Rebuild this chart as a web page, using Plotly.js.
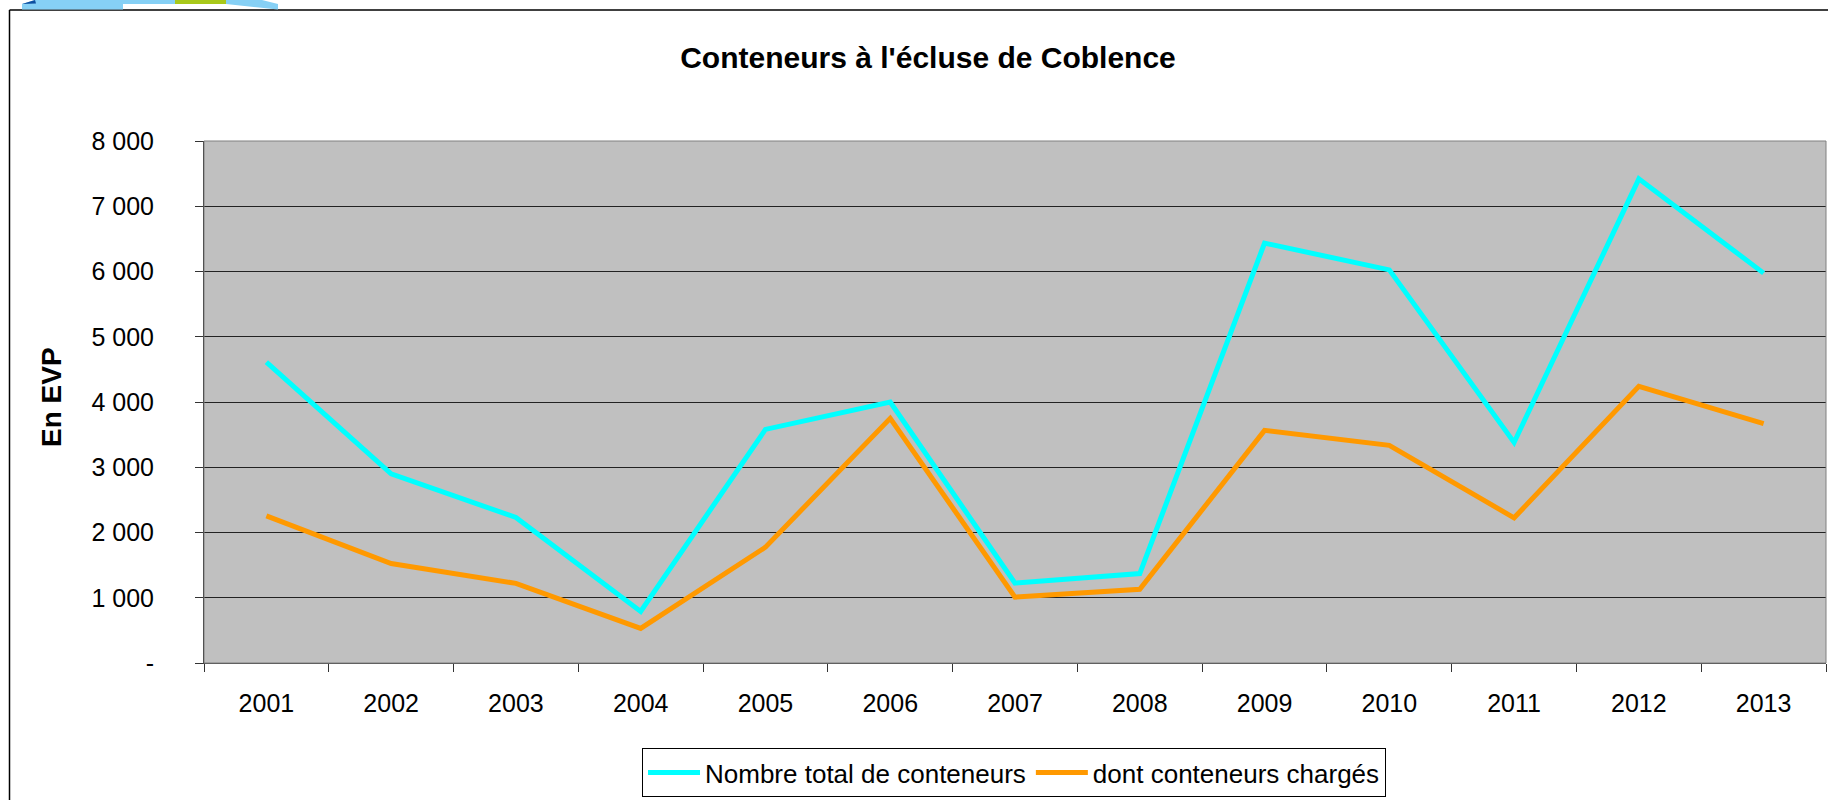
<!DOCTYPE html>
<html>
<head>
<meta charset="utf-8">
<script src="https://cdn.plot.ly/plotly-3.0.1.min.js"></script>
<style>
  html, body { margin: 0; padding: 0; background: #ffffff; }
  #chart { width: 1828px; height: 800px; }
</style>
</head>
<body>
<div id="chart"></div>
<script>
// ---- data ----
const years = ['2001', '2002', '2003', '2004', '2005', '2006', '2007', '2008', '2009', '2010', '2011', '2012', '2013'];
const totalContainers = [4610, 2900, 2230, 790, 3580, 4000, 1225, 1370, 6435, 6025, 3380, 7420, 5975];
const loadedContainers = [2255, 1525, 1220, 530, 1775, 3750, 1010, 1130, 3565, 3335, 2225, 4240, 3670];
const yTickValues = [0, 1000, 2000, 3000, 4000, 5000, 6000, 7000, 8000];
const yTickLabels = ['-', '1 000', '2 000', '3 000', '4 000', '5 000', '6 000', '7 000', '8 000'];
const seriesNames = ['Nombre total de conteneurs', 'dont conteneurs chargés'];
const chartTitle = "Conteneurs à l'écluse de Coblence";
const yTitle = 'En EVP';

// ---- geometry helpers (pixel -> paper) ----
const W = 1828, H = 800;
const M = { l: 204, r: 2, t: 141, b: 137 };
const PW = W - M.l - M.r, PH = H - M.t - M.b;
const px = x => (x - M.l) / PW;
const py = y => (H - M.b - y) / PH;

const FONT = 'Liberation Sans, Arial, Helvetica, sans-serif';

const traces = [
  {
    type: 'scatter', mode: 'lines', name: seriesNames[0],
    x: years, y: totalContainers,
    line: { color: '#00FFFF', width: 5 },
    hoverinfo: 'skip'
  },
  {
    type: 'scatter', mode: 'lines', name: seriesNames[1],
    x: years, y: loadedContainers,
    line: { color: '#FF9900', width: 5 },
    hoverinfo: 'skip'
  }
];

const shapes = [
  // plot area border
  { type: 'rect', xref: 'paper', yref: 'paper', x0: 0, x1: 1, y0: 0, y1: 1,
    line: { color: '#808080', width: 1 }, layer: 'above' },
  // outer chart border (left & top visible)
  { type: 'line', xref: 'paper', yref: 'paper', x0: px(9.5), x1: px(9.5), y0: py(10), y1: py(800),
    line: { color: '#000000', width: 1.5 } },
  { type: 'line', xref: 'paper', yref: 'paper', x0: px(9.5), x1: px(1828), y0: py(10), y1: py(10),
    line: { color: '#000000', width: 1.5 } },
  // cropped logo fragment at the top-left
  { type: 'path', xref: 'paper', yref: 'paper',
    path: `M ${px(22)} ${py(4)} L ${px(123)} ${py(4)} L ${px(123)} ${py(9.5)} L ${px(22)} ${py(9.5)} Z`,
    fillcolor: '#86D0F5', line: { width: 0 } },
  { type: 'path', xref: 'paper', yref: 'paper',
    path: `M ${px(22)} ${py(4)} L ${px(35)} ${py(0)} L ${px(123)} ${py(0)} L ${px(123)} ${py(4)} Z`,
    fillcolor: '#86D0F5', line: { width: 0 } },
  { type: 'path', xref: 'paper', yref: 'paper',
    path: `M ${px(22)} ${py(4)} L ${px(35)} ${py(0)} L ${px(36)} ${py(3.5)} Z`,
    fillcolor: '#0D4FA0', line: { width: 0 } },
  { type: 'path', xref: 'paper', yref: 'paper',
    path: `M ${px(123)} ${py(0)} L ${px(175)} ${py(0)} L ${px(175)} ${py(4)} L ${px(123)} ${py(4)} Z`,
    fillcolor: '#86D0F5', line: { width: 0 } },
  { type: 'path', xref: 'paper', yref: 'paper',
    path: `M ${px(175)} ${py(0)} L ${px(226)} ${py(0)} L ${px(226)} ${py(4)} L ${px(175)} ${py(4)} Z`,
    fillcolor: '#A8C81A', line: { width: 0 } },
  { type: 'path', xref: 'paper', yref: 'paper',
    path: `M ${px(226)} ${py(0)} L ${px(262)} ${py(0)} L ${px(278)} ${py(4)} L ${px(278)} ${py(9.5)} L ${px(226)} ${py(4)} Z`,
    fillcolor: '#86D0F5', line: { width: 0 } }
];

const annotations = [
  {
    text: yTitle, textangle: -90,
    xref: 'paper', yref: 'paper',
    x: px(51), y: py(397), xanchor: 'center', yanchor: 'middle',
    showarrow: false,
    font: { family: FONT, size: 28, weight: 'bold', color: '#000000' }
  }
];

const layout = {
  width: W, height: H,
  margin: { l: M.l, r: M.r, t: M.t, b: M.b, pad: 0 },
  paper_bgcolor: '#FFFFFF',
  plot_bgcolor: '#C0C0C0',
  font: { family: FONT, color: '#000000', size: 25 },
  showlegend: true,
  title: {
    text: chartTitle,
    font: { family: FONT, size: 30, weight: 'bold', color: '#000000' },
    xref: 'container', yref: 'container',
    x: 928 / W, xanchor: 'center',
    y: 1 - 57 / H, yanchor: 'middle'
  },
  xaxis: {
    type: 'category',
    range: [-0.5, years.length - 0.5],
    tickson: 'boundaries',
    ticks: 'outside', ticklen: 8, tickwidth: 1, tickcolor: '#333333',
    showline: true, linecolor: '#404040', linewidth: 1,
    showgrid: false, zeroline: false,
    tickfont: { family: FONT, size: 25, color: '#000000' },
    ticklabelstandoff: 18,
    fixedrange: true
  },
  yaxis: {
    range: [0, 8000],
    tickmode: 'array', tickvals: yTickValues, ticktext: yTickLabels,
    ticks: 'outside', ticklen: 8, tickwidth: 1, tickcolor: '#333333',
    showline: true, linecolor: '#222222', linewidth: 1,
    showgrid: true, gridcolor: '#222222', gridwidth: 1,
    zeroline: false,
    tickfont: { family: FONT, size: 25, color: '#000000' },
    ticklabelstandoff: 36,
    fixedrange: true
  },
  legend: {
    orientation: 'h',
    xref: 'container', yref: 'container',
    x: 642 / W, xanchor: 'left',
    y: 1 - 748 / H, yanchor: 'top',
    bgcolor: '#FFFFFF',
    bordercolor: '#000000', borderwidth: 1,
    font: { family: FONT, size: 26, color: '#000000' },
    itemwidth: 52,
    traceorder: 'normal'
  },
  annotations: annotations,
  shapes: shapes
};

Plotly.newPlot('chart', traces, layout, { displayModeBar: false, staticPlot: true });
</script>
</body>
</html>
